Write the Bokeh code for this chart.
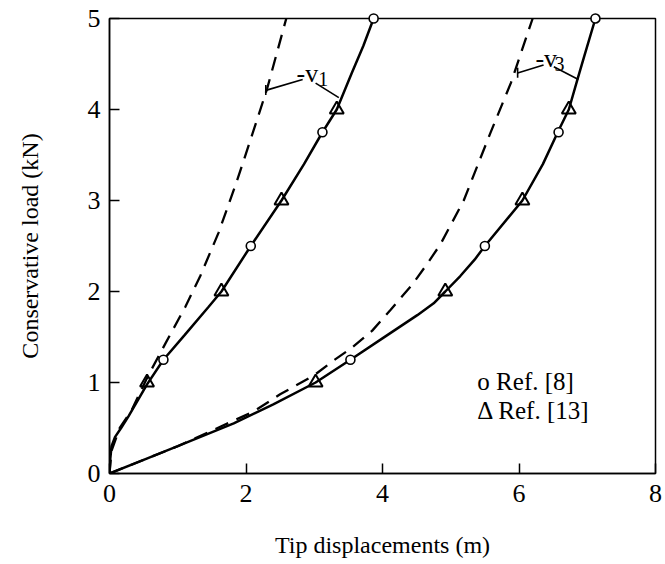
from bokeh.plotting import figure
from bokeh.models import Range1d, FixedTicker
from bokeh.core.properties import value
from bokeh.embed import file_html
from bokeh.resources import INLINE

# ---- data ----
v1_solid_x = [0, 0.01, 0.03, 0.08, 0.17, 0.28, 0.55, 0.79, 1.1, 1.45, 1.64, 2.07, 2.52, 2.85, 3.12, 3.33, 3.55, 3.72, 3.87]
v1_solid_y = [0, 0.15, 0.3, 0.4, 0.5, 0.63, 0.98, 1.25, 1.52, 1.83, 2.0, 2.5, 3.0, 3.4, 3.75, 4.0, 4.4, 4.7, 5.0]
v1_dash_x = [0, 0.03, 0.15, 0.32, 0.57, 0.82, 1.11, 1.33, 1.6, 1.86, 2.05, 2.31, 2.59]
v1_dash_y = [0, 0.25, 0.5, 0.69, 1.08, 1.43, 1.83, 2.17, 2.65, 3.2, 3.63, 4.23, 5.0]
v3_solid_x = [0, 0.5, 1.0, 1.82, 2.4, 3.02, 3.53, 4.01, 4.51, 4.75, 4.92, 5.14, 5.35, 5.5, 6.05, 6.35, 6.58, 6.73, 6.86, 6.95, 7.12]
v3_solid_y = [0, 0.15, 0.3, 0.55, 0.76, 1.0, 1.25, 1.49, 1.74, 1.87, 2.0, 2.17, 2.35, 2.5, 3.0, 3.4, 3.77, 4.0, 4.34, 4.57, 5.0]
v3_dash_x = [0, 1.0, 1.67, 2.11, 2.5, 3.0, 3.28, 3.53, 3.85, 4.12, 4.44, 4.66, 4.85, 5.19, 5.58, 5.88, 6.2]
v3_dash_y = [0, 0.3, 0.53, 0.68, 0.87, 1.08, 1.24, 1.37, 1.57, 1.8, 2.08, 2.31, 2.52, 3.0, 3.74, 4.29, 5.0]

ref8_x = [0.79, 2.07, 3.12, 3.87, 3.53, 5.5, 6.58, 7.12]
ref8_y = [1.25, 2.5, 3.75, 5.0, 1.25, 2.5, 3.75, 5.0]
ref13_x = [0.55, 1.64, 2.52, 3.33, 3.02, 4.92, 6.05, 6.73]
ref13_y = [1.0, 2.0, 3.0, 4.0, 1.0, 2.0, 3.0, 4.0]

x_ticks = [0, 2, 4, 6, 8]
y_ticks = [0, 1, 2, 3, 4, 5]

# curve labels and their leader lines
label_main = ["-v", "-v"]
label_main_x = [2.74, 6.24]
label_main_y = [4.4, 4.56]
label_sub = ["1", "3"]
label_sub_x = [3.06, 6.52]
label_sub_y = [4.34, 4.5]
leader_x0 = [2.83, 3.02, 6.36, 6.51, 2.29, 5.98]
leader_y0 = [4.33, 4.29, 4.49, 4.47, 4.16, 4.35]
leader_x1 = [2.29, 3.36, 5.98, 6.87, 2.29, 5.98]
leader_y1 = [4.21, 4.13, 4.40, 4.33, 4.27, 4.46]

legend_text = ["o Ref. [8]", "\u0394 Ref. [13]"]
legend_x = [5.39, 5.39]
legend_y = [1.01, 0.69]

FONT = "Liberation Serif"

p = figure(width=663, height=560, output_backend="svg", toolbar_location=None,
           x_range=Range1d(0, 8), y_range=Range1d(0, 5),
           min_border_left=109, min_border_right=8, min_border_top=18, min_border_bottom=87)
p.frame_width = 546
p.frame_height = 455
p.grid.visible = False
p.outline_line_color = "black"
p.outline_line_width = 1.5
p.background_fill_color = "white"
p.border_fill_color = "white"

for ax in (p.xaxis[0], p.yaxis[0]):
    ax.axis_line_width = 1.5
    ax.major_tick_line_width = 1.5
    ax.major_tick_in = 10
    ax.major_tick_out = 0
    ax.minor_tick_line_color = None
    ax.major_label_text_font = FONT
    ax.major_label_text_font_size = "26px"
    ax.major_label_text_color = "black"
    ax.axis_label_text_font = FONT
    ax.axis_label_text_font_size = "24px"
    ax.axis_label_text_font_style = "normal"
    ax.axis_label_text_color = "black"

p.xaxis[0].ticker = FixedTicker(ticks=x_ticks)
p.yaxis[0].ticker = FixedTicker(ticks=y_ticks)
p.xaxis[0].axis_label = "Tip displacements (m)"
p.yaxis[0].axis_label = "Conservative load (kN)"
p.xaxis[0].major_label_standoff = 11
p.yaxis[0].major_label_standoff = 9
p.xaxis[0].axis_label_standoff = 27
p.yaxis[0].axis_label_standoff = 42

p.line(v1_dash_x, v1_dash_y, line_color="black", line_width=2.3, line_dash="14 9")
p.line(v3_dash_x, v3_dash_y, line_color="black", line_width=2.3, line_dash="14 9")
p.line(v1_solid_x, v1_solid_y, line_color="black", line_width=2.5)
p.line(v3_solid_x, v3_solid_y, line_color="black", line_width=2.5)

p.scatter(ref8_x, ref8_y, marker="circle", size=9, fill_color="white",
          line_color="black", line_width=1.6, level="overlay")
p.scatter(ref13_x, ref13_y, marker="triangle", size=14, fill_color=None,
          line_color="black", line_width=2, level="overlay")

p.segment(leader_x0, leader_y0, leader_x1, leader_y1, line_color="black", line_width=1.6)
p.text(label_main_x, label_main_y, text=label_main, text_font=value(FONT),
       text_font_size="26px", text_color="black", text_baseline="alphabetic")
p.text(label_sub_x, label_sub_y, text=label_sub, text_font=value(FONT),
       text_font_size="20px", text_color="black", text_baseline="alphabetic")
p.text(legend_x, legend_y, text=legend_text, text_font=value(FONT),
       text_font_size="25px", text_color="black", text_baseline="alphabetic")

open("out.html", "w").write(file_html(p, INLINE))
